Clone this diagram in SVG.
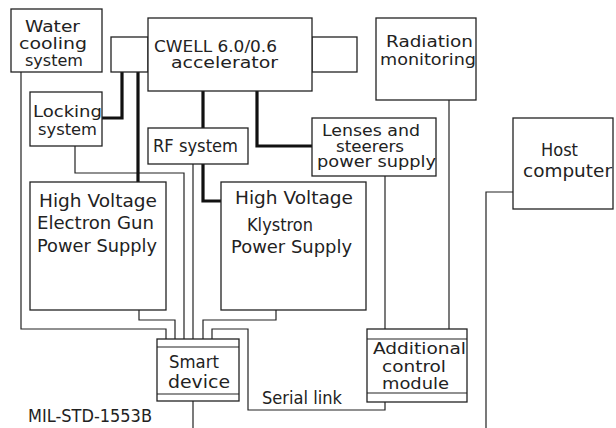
<svg xmlns="http://www.w3.org/2000/svg" width="616" height="428" viewBox="0 0 616 428">
<style>
.box{fill:#fff;stroke:#222;stroke-width:1.3}
.thin{fill:none;stroke:#222;stroke-width:1.2}
.thick{fill:none;stroke:#111;stroke-width:3.2}
text{font-family:"DejaVu Sans","Liberation Sans",sans-serif;font-size:17px;fill:#222}
.t{font-size:16px}
</style>
<rect width="616" height="428" fill="#fff"/>
<g id="connectors">
<path class="thin" d="M21,72 V329 H166 V339"/>
<path class="thin" d="M139,310 V320 H175 V339"/>
<path class="thin" d="M75,146 V173 H184 V339"/>
<path class="thin" d="M193,164 V339"/>
<path class="thin" d="M276,310 V320 H203 V339"/>
<path class="thin" d="M212,339 V329 H248 V410 H385 V402"/>
<path class="thin" d="M193,401 V428"/>
<path class="thin" d="M385,176 V329"/>
<path class="thin" d="M449,100 V329"/>
<path class="thin" d="M513,192 H486 V428"/>
<path class="thick" d="M122,72 V118 H102"/>
<path class="thick" d="M138,72 V182"/>
<path class="thick" d="M203,91 V128"/>
<path class="thick" d="M257,91 V146 H312"/>
<path class="thick" d="M203,164 V201 H221"/>
</g>
<g id="water">
<rect class="box" x="11" y="9" width="91" height="63"/>
<text class="t" x="25" y="32" textLength="55" lengthAdjust="spacingAndGlyphs">Water</text>
<text class="t" x="19" y="49" textLength="68" lengthAdjust="spacingAndGlyphs">cooling</text>
<text class="t" x="25" y="66" textLength="58" lengthAdjust="spacingAndGlyphs">system</text>
</g>
<g id="acc-left"><rect class="box" x="111" y="37" width="37" height="35"/></g>
<g id="acc-right"><rect class="box" x="312" y="37" width="45" height="35"/></g>
<g id="cwell">
<rect class="box" x="148" y="18" width="164" height="73"/>
<text class="t" x="154" y="52" textLength="123" lengthAdjust="spacingAndGlyphs">CWELL 6.0/0.6</text>
<text class="t" x="171" y="68" textLength="107" lengthAdjust="spacingAndGlyphs">accelerator</text>
</g>
<g id="radiation">
<rect class="box" x="376" y="18" width="100" height="82"/>
<text class="t" x="386" y="47" textLength="87" lengthAdjust="spacingAndGlyphs">Radiation</text>
<text class="t" x="380" y="65" textLength="96" lengthAdjust="spacingAndGlyphs">monitoring</text>
</g>
<g id="locking">
<rect class="box" x="30" y="92" width="72" height="54"/>
<text class="t" x="33" y="117" textLength="69" lengthAdjust="spacingAndGlyphs">Locking</text>
<text class="t" x="38" y="135" textLength="59" lengthAdjust="spacingAndGlyphs">system</text>
</g>
<g id="rf">
<rect class="box" x="148" y="128" width="100" height="36"/>
<text x="153" y="152" textLength="85" lengthAdjust="spacingAndGlyphs">RF system</text>
</g>
<g id="lenses">
<rect class="box" x="312" y="118" width="124" height="58"/>
<text class="t" x="322" y="136" textLength="98" lengthAdjust="spacingAndGlyphs">Lenses and</text>
<text class="t" x="336" y="152" textLength="68" lengthAdjust="spacingAndGlyphs">steerers</text>
<text class="t" x="317" y="167" textLength="119" lengthAdjust="spacingAndGlyphs">power supply</text>
</g>
<g id="host">
<rect class="box" x="513" y="118" width="100" height="91"/>
<text x="541" y="156" textLength="37" lengthAdjust="spacingAndGlyphs">Host</text>
<text x="523" y="177" textLength="89" lengthAdjust="spacingAndGlyphs">computer</text>
</g>
<g id="gun">
<rect class="box" x="30" y="182" width="136" height="128"/>
<text x="39" y="207" textLength="118" lengthAdjust="spacingAndGlyphs">High Voltage</text>
<text x="37" y="229" textLength="117" lengthAdjust="spacingAndGlyphs">Electron Gun</text>
<text x="37" y="252" textLength="120" lengthAdjust="spacingAndGlyphs">Power Supply</text>
</g>
<g id="klystron">
<rect class="box" x="221" y="182" width="145" height="128"/>
<text x="235" y="204" textLength="118" lengthAdjust="spacingAndGlyphs">High Voltage</text>
<text x="247" y="231" textLength="66" lengthAdjust="spacingAndGlyphs">Klystron</text>
<text x="231" y="253" textLength="121" lengthAdjust="spacingAndGlyphs">Power Supply</text>
</g>
<g id="smart">
<rect class="box" x="157" y="339" width="82" height="62"/>
<path class="thin" d="M157,347 H239 M157,394 H239"/>
<text x="169" y="368" textLength="50" lengthAdjust="spacingAndGlyphs">Smart</text>
<text x="168" y="388" textLength="62" lengthAdjust="spacingAndGlyphs">device</text>
</g>
<g id="acm">
<rect class="box" x="367" y="329" width="100" height="73"/>
<path class="thin" d="M367,339 H467 M367,393 H467"/>
<text class="t" x="373" y="354" textLength="93" lengthAdjust="spacingAndGlyphs">Additional</text>
<text class="t" x="382" y="372" textLength="64" lengthAdjust="spacingAndGlyphs">control</text>
<text class="t" x="382" y="389" textLength="67" lengthAdjust="spacingAndGlyphs">module</text>
</g>
<g id="labels">
<text x="262" y="404" textLength="80" lengthAdjust="spacingAndGlyphs">Serial link</text>
<text x="28" y="422" textLength="124" lengthAdjust="spacingAndGlyphs">MIL-STD-1553B</text>
</g>
</svg>
